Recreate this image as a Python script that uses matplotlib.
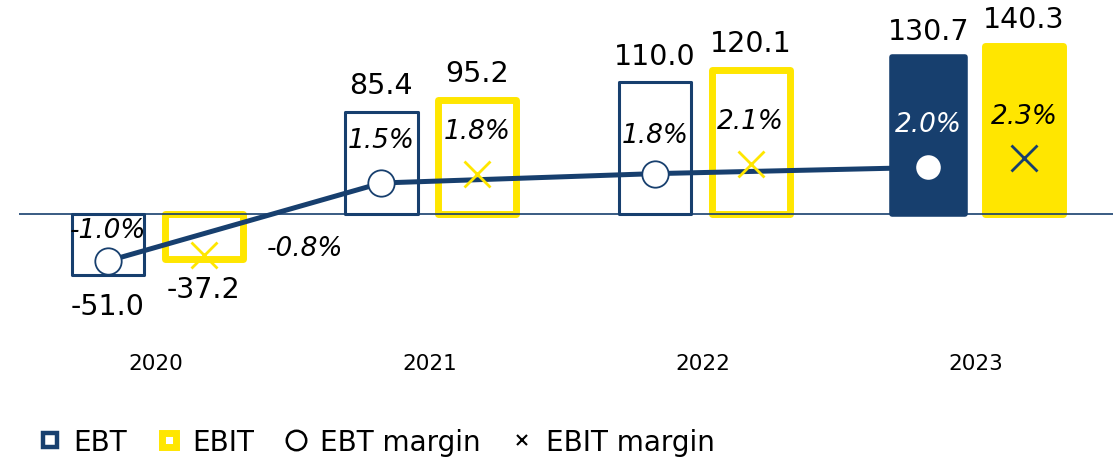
import matplotlib.pyplot as plt
import numpy as np
from matplotlib.lines import Line2D

# EBT / EBIT in EUR m, margins in %
years = ['2020', '2021', '2022', '2023']
ebt = [-51.0, 85.4, 110.0, 130.7]
ebit = [-37.2, 95.2, 120.1, 140.3]
ebt_margin = [-1.0, 1.5, 1.8, 2.0]
ebit_margin = [-0.8, 1.8, 2.1, 2.3]

NAVY = '#173F6E'
YELLOW = '#FFE600'

plt.rcParams['font.family'] = 'DejaVu Sans'

fig = plt.figure(figsize=(11.19, 4.64), dpi=100)
ax = fig.add_axes([19 / 1119, 1 - 340 / 464, 1094 / 1119, 340 / 464])
x = np.arange(len(years))
off = 0.175

# bars: outlined for actuals, filled for the last year
for i in x:
    last = i == len(years) - 1
    ax.bar(x[i] - off, ebt[i], width=0.266,
           facecolor=NAVY if last else 'white', edgecolor=NAVY,
           linewidth=4.0 if last else 2.2, joinstyle='round', zorder=2)
    ax.bar(x[i] + off, ebit[i], width=0.285,
           facecolor=YELLOW if last else 'white', edgecolor=YELLOW,
           linewidth=5.0, joinstyle='round', zorder=2)

ax.axhline(0, color=NAVY, lw=1.2, zorder=3)

# value labels above / below bars
for xs, vals in ((x - off, ebt), (x + off, ebit)):
    for xi, v in zip(xs, vals):
        dy = 19 if v >= 0 else -22
        ax.annotate(f'{v:.1f}', (xi, v), xytext=(0, dy), textcoords='offset points',
                    ha='center', va='center', fontsize=20.5, color='black')

ax.set_xlim(-0.5, 3.5)
ax.set_ylim(-104.17, 179.17)
ax.set_xticks(x, years)
ax.tick_params(axis='x', length=0, pad=10, labelsize=15.5)
ax.set_yticks([])
for s in ax.spines.values():
    s.set_visible(False)

# margins on a twin axis
ax2 = ax.twinx()
ax2.set_ylim(-3.5, 7.397)
ax2.set_yticks([])
for s in ax2.spines.values():
    s.set_visible(False)

ax2.plot(x - off, ebt_margin, color=NAVY, lw=3.6, zorder=3, solid_capstyle='butt')
ax2.plot(x - off, ebt_margin, 'o', ms=19, mfc='white', mec=NAVY, mew=1.3,
         linestyle='none', zorder=4)
ebit_cols = [YELLOW, YELLOW, YELLOW, NAVY]
for i in x:
    ax2.plot(x[i] + off, ebit_margin[i], 'x', ms=19, mew=2.0,
             color=ebit_cols[i], zorder=5)

# margin labels
ebt_lbl_off = [(0, 22), (0, 31), (0, 28), (0, 31)]
ebit_lbl_off = [(73, 5), (0, 31), (0, 31), (0, 30)]
ebt_lbl_col = ['black', 'black', 'black', 'white']
for i in x:
    ax2.annotate(f'{ebt_margin[i]:.1f}%', (x[i] - off, ebt_margin[i]),
                 xytext=ebt_lbl_off[i], textcoords='offset points',
                 ha='center', va='center', fontsize=19, style='italic',
                 color=ebt_lbl_col[i], zorder=6)
    ax2.annotate(f'{ebit_margin[i]:.1f}%', (x[i] + off, ebit_margin[i]),
                 xytext=ebit_lbl_off[i], textcoords='offset points',
                 ha='center', va='center', fontsize=19, style='italic',
                 color='black', zorder=6)

handles = [
    Line2D([], [], marker='s', ls='none', ms=10.5, mfc='white', mec=NAVY, mew=3.2),
    Line2D([], [], marker='s', ls='none', ms=9.5, mfc='white', mec=YELLOW, mew=5),
    Line2D([], [], marker='o', ls='none', ms=14, mfc='white', mec='black', mew=1.8),
    Line2D([], [], marker='x', ls='none', ms=7.5, color='black', mew=1.5),
]
fig.legend(handles, ['EBT', 'EBIT', 'EBT margin', 'EBIT margin'],
           loc='center left', bbox_to_anchor=(39 / 1119, 21 / 464), ncol=4,
           frameon=False, fontsize=20, handlelength=0.8, handletextpad=0.45,
           columnspacing=1.1, borderpad=0, borderaxespad=0)

fig.savefig('out.png', dpi=100)
